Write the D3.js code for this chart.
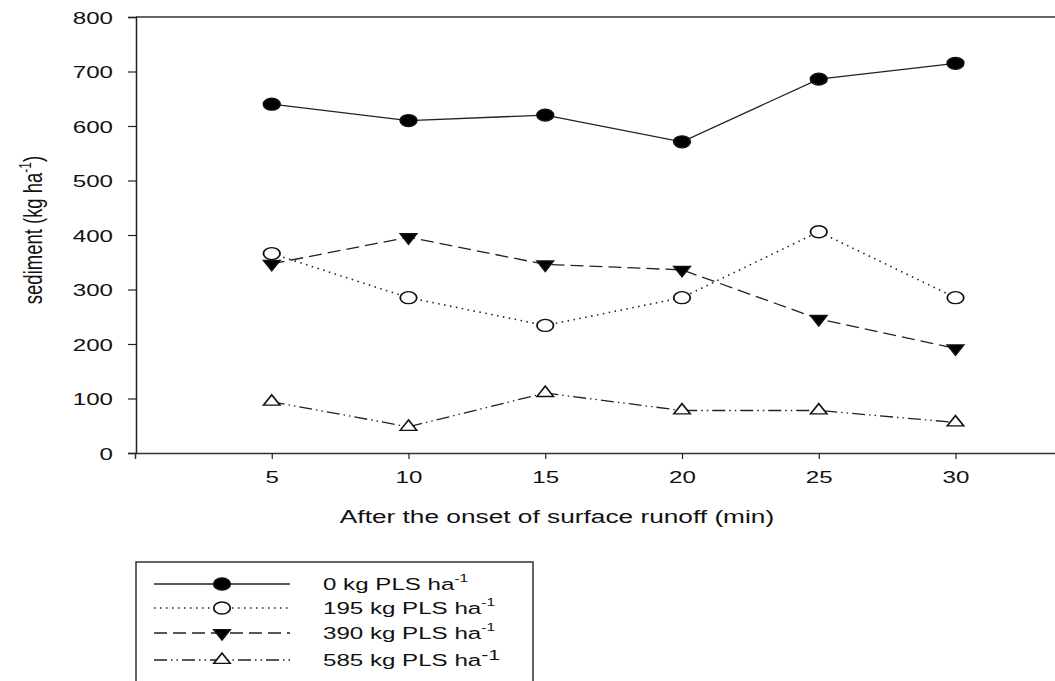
<!DOCTYPE html>
<html>
<head>
<meta charset="utf-8">
<script src="https://cdn.jsdelivr.net/npm/d3@7"></script>
<style>
  body { margin: 0; background: #fff; }
  svg { font-family: "Liberation Sans", Arial, sans-serif; }
</style>
</head>
<body>
<div id="chart"></div>
<script>
// sediment after onset of runoff, four seeding rates
const minutes = [5, 10, 15, 20, 25, 30];
const xTicks = [5, 10, 15, 20, 25, 30];
const yTicks = [0, 100, 200, 300, 400, 500, 600, 700, 800];

const rate0 = [640, 610, 620, 571, 686, 715];
const rate195 = [366, 285, 234, 285, 406, 285];
const rate390 = [347, 396, 346, 336, 246, 192];
const rate585 = [94, 48, 110, 78, 78, 56];

const seriesNames = ['0 kg PLS ha', '195 kg PLS ha', '390 kg PLS ha', '585 kg PLS ha'];

const CONFIG = {
  width: 1055,
  height: 681,
  left: 136,
  top: 17,
  bottom: 453,
  stretch: 1.42, // the whole picture is a bit wide
};

const series = [
  { name: seriesNames[0], values: rate0, dash: null, symbol: d3.symbolCircle, size: 113, rot: 0, fill: '#000' },
  { name: seriesNames[1], values: rate195, dash: '1.5,4.5', symbol: d3.symbolCircle, size: 113, rot: 0, fill: '#fff' },
  { name: seriesNames[2], values: rate390, dash: '13,6', symbol: d3.symbolTriangle, size: 62, rot: 180, fill: '#000' },
  { name: seriesNames[3], values: rate585, dash: '13,4,1.5,4,1.5,4', symbol: d3.symbolTriangle, size: 62, rot: 0, fill: '#fff' },
];

function wideText(sel, x, y) {
  return sel.append('text')
    .attr('transform', `translate(${x},${y}) scale(${CONFIG.stretch},1)`)
    .attr('fill', '#111');
}

function drawChart() {
  const svg = d3.select('#chart')
    .append('svg')
    .attr('width', CONFIG.width)
    .attr('height', CONFIG.height);

  const x = d3.scaleLinear().domain([0, 40]).range([CONFIG.left - 1, CONFIG.left - 1 + 40 * 27.35]);
  const y = d3.scaleLinear().domain([0, 800]).range([CONFIG.bottom, CONFIG.top]);

  // top frame line
  svg.append('line')
    .attr('x1', CONFIG.left).attr('x2', CONFIG.width)
    .attr('y1', CONFIG.top).attr('y2', CONFIG.top)
    .attr('stroke', '#333').attr('stroke-width', 1.5);

  // y axis
  const yAxis = svg.append('g')
    .attr('transform', `translate(${CONFIG.left},0)`)
    .call(d3.axisLeft(y).tickValues(yTicks).tickSize(8));
  yAxis.select('.domain').attr('stroke', '#222').attr('stroke-width', 1.5);
  yAxis.selectAll('.tick line').attr('stroke', '#222').attr('stroke-width', 1.2);
  yAxis.selectAll('.tick text')
    .attr('x', null).attr('dy', null)
    .attr('transform', `translate(-23,6) scale(${CONFIG.stretch},1)`)
    .attr('font-size', 17).attr('fill', '#111')
    .attr('font-family', '"Liberation Sans", Arial, sans-serif');

  // x axis
  const xAxis = svg.append('g')
    .attr('transform', `translate(0,${CONFIG.bottom})`)
    .call(d3.axisBottom(x).tickValues(xTicks).tickSize(6));
  xAxis.select('.domain').attr('stroke', '#333').attr('stroke-width', 1.5);
  xAxis.selectAll('.tick line').attr('stroke', '#222').attr('stroke-width', 1.2);
  xAxis.selectAll('.tick text')
    .attr('y', null).attr('dy', null)
    .attr('transform', `translate(0,30) scale(${CONFIG.stretch},1)`)
    .attr('font-size', 17).attr('fill', '#111')
    .attr('font-family', '"Liberation Sans", Arial, sans-serif');

  // axis titles
  const yTitle = svg.append('text')
    .attr('transform', `translate(42,230) rotate(-90) scale(1,${CONFIG.stretch})`)
    .attr('text-anchor', 'middle')
    .attr('font-size', 18.5)
    .attr('fill', '#111');
  yTitle.append('tspan').text('sediment (kg ha');
  yTitle.append('tspan').attr('font-size', 12).attr('dy', -8).text('-1');
  yTitle.append('tspan').attr('dy', 8).text(')');

  wideText(svg, 557, 523)
    .attr('text-anchor', 'middle')
    .attr('font-size', 18.5)
    .text('After the onset of surface runoff (min)');

  const line = d3.line()
    .x((d, i) => x(minutes[i]))
    .y(d => y(d));

  series.forEach(s => {
    svg.append('path')
      .datum(s.values)
      .attr('d', line)
      .attr('fill', 'none')
      .attr('stroke', '#222')
      .attr('stroke-width', s.dash === '1.5,4.5' ? 1.6 : 1.3)
      .attr('stroke-dasharray', s.dash);

    svg.selectAll(null)
      .data(s.values)
      .enter()
      .append('path')
      .attr('d', d3.symbol().type(s.symbol).size(s.size))
      .attr('transform', (d, i) => `translate(${x(minutes[i])},${y(d)}) scale(1.38,1) rotate(${s.rot})`)
      .attr('fill', s.fill)
      .attr('stroke', '#111')
      .attr('stroke-width', 1.3);
  });

  // legend
  const legend = svg.append('g');
  legend.append('rect')
    .attr('x', 136).attr('y', 562)
    .attr('width', 397).attr('height', 140)
    .attr('fill', 'none').attr('stroke', '#333').attr('stroke-width', 1.5);

  const rowY = [584, 608, 633, 660];
  series.forEach((s, i) => {
    const g = legend.append('g');
    g.append('line')
      .attr('x1', 154).attr('x2', 290)
      .attr('y1', rowY[i]).attr('y2', rowY[i])
      .attr('stroke', '#222')
      .attr('stroke-width', s.dash === '1.5,4.5' ? 1.6 : 1.3)
      .attr('stroke-dasharray', s.dash);
    g.append('path')
      .attr('d', d3.symbol().type(s.symbol).size(s.size))
      .attr('transform', `translate(222,${rowY[i]}) scale(1.38,1) rotate(${s.rot})`)
      .attr('fill', s.fill)
      .attr('stroke', '#111')
      .attr('stroke-width', 1.3);
    const t = wideText(g, 323, rowY[i] + 6)
      .attr('font-size', 17);
    t.append('tspan').text(s.name);
    t.append('tspan')
      .attr('font-size', i === 3 ? 15 : 11)
      .attr('dy', i === 3 ? -6 : -8)
      .text('-1');
  });
}

drawChart();
</script>
</body>
</html>
